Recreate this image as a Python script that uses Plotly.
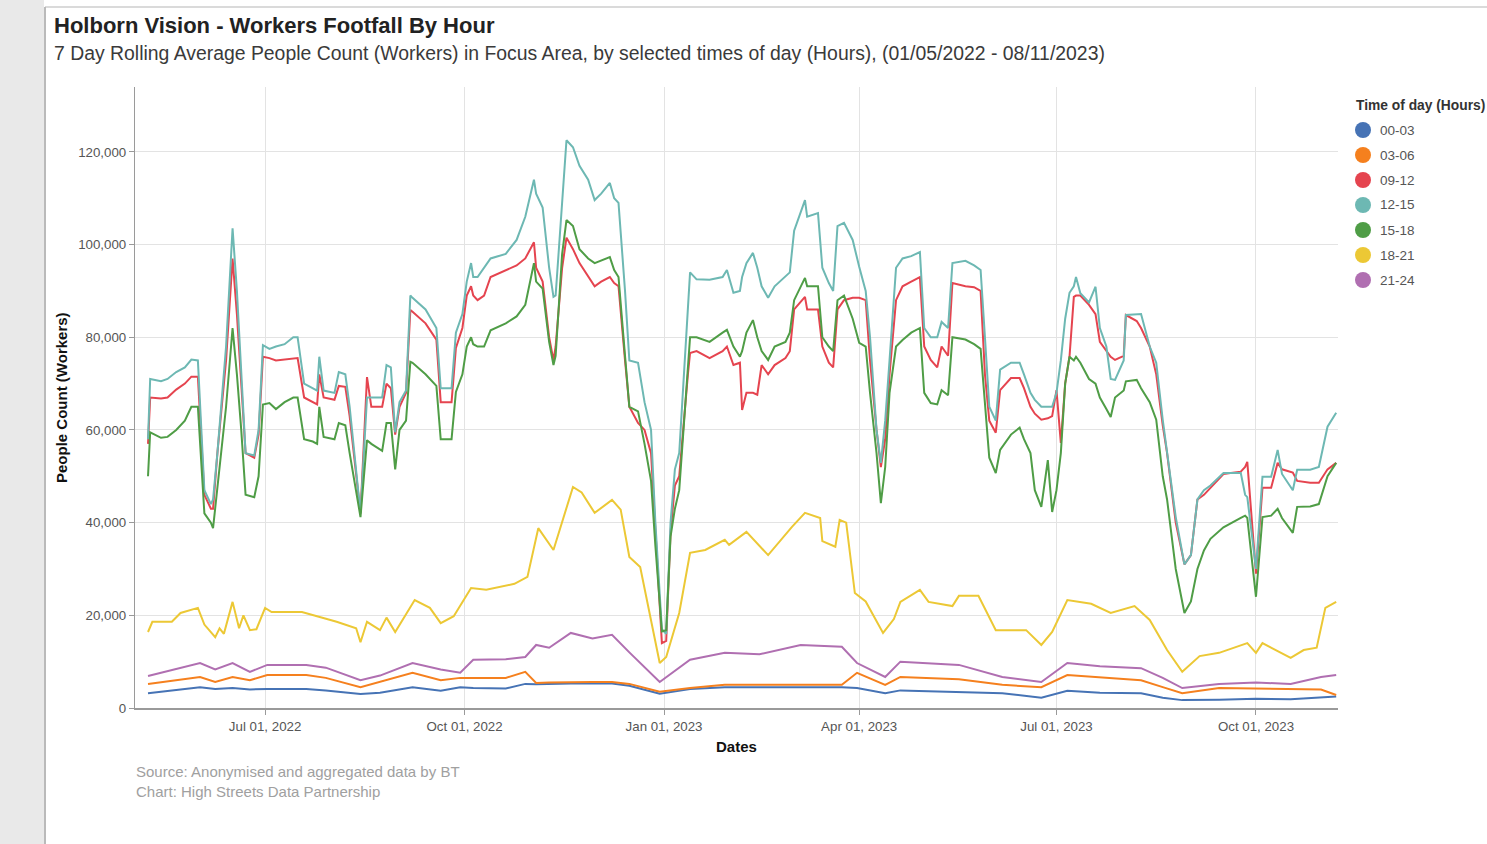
import plotly.graph_objects as go

# ---------------- data ----------------
top_dates = [
    "2022-05-08", "2022-05-09", "2022-05-14", "2022-05-17", "2022-05-21", "2022-05-25", "2022-05-28", "2022-05-31",
    "2022-06-03", "2022-06-06", "2022-06-07", "2022-06-09", "2022-06-13", "2022-06-16", "2022-06-18", "2022-06-20",
    "2022-06-22", "2022-06-26", "2022-06-28", "2022-06-30", "2022-07-03", "2022-07-06", "2022-07-10", "2022-07-14",
    "2022-07-16", "2022-07-19", "2022-07-23", "2022-07-25", "2022-07-26", "2022-07-28", "2022-08-02", "2022-08-04",
    "2022-08-07", "2022-08-09", "2022-08-14", "2022-08-17", "2022-08-19", "2022-08-24", "2022-08-26", "2022-08-28",
    "2022-08-30", "2022-09-01", "2022-09-04", "2022-09-06", "2022-09-07", "2022-09-13", "2022-09-18", "2022-09-20",
    "2022-09-25", "2022-09-27", "2022-09-30", "2022-10-02", "2022-10-04", "2022-10-05", "2022-10-07", "2022-10-10",
    "2022-10-13", "2022-10-20", "2022-10-25", "2022-10-29", "2022-11-02", "2022-11-03", "2022-11-06", "2022-11-09",
    "2022-11-11", "2022-11-12", "2022-11-15", "2022-11-17", "2022-11-20", "2022-11-23", "2022-11-27", "2022-11-30",
    "2022-12-03", "2022-12-07", "2022-12-09", "2022-12-11", "2022-12-14", "2022-12-16", "2022-12-20", "2022-12-23",
    "2022-12-26", "2022-12-28", "2022-12-31", "2023-01-02", "2023-01-04", "2023-01-06", "2023-01-08", "2023-01-12",
    "2023-01-13", "2023-01-16", "2023-01-22", "2023-01-28", "2023-01-30", "2023-02-02", "2023-02-05", "2023-02-06",
    "2023-02-08", "2023-02-11", "2023-02-13", "2023-02-15", "2023-02-18", "2023-02-21", "2023-02-26", "2023-02-28",
    "2023-03-02", "2023-03-07", "2023-03-08", "2023-03-13", "2023-03-15", "2023-03-18", "2023-03-20", "2023-03-22",
    "2023-03-25", "2023-03-29", "2023-04-01", "2023-04-04", "2023-04-06", "2023-04-09", "2023-04-11", "2023-04-13",
    "2023-04-15", "2023-04-18", "2023-04-21", "2023-04-25", "2023-04-29", "2023-05-01", "2023-05-04", "2023-05-07",
    "2023-05-09", "2023-05-12", "2023-05-14", "2023-05-20", "2023-05-24", "2023-05-27", "2023-05-29", "2023-05-31",
    "2023-06-03", "2023-06-05", "2023-06-10", "2023-06-14", "2023-06-16", "2023-06-19", "2023-06-21", "2023-06-24",
    "2023-06-27", "2023-06-29", "2023-07-01", "2023-07-03", "2023-07-05", "2023-07-07", "2023-07-09", "2023-07-10",
    "2023-07-12", "2023-07-16", "2023-07-19", "2023-07-21", "2023-07-24", "2023-07-26", "2023-07-28", "2023-08-01",
    "2023-08-02", "2023-08-07", "2023-08-09", "2023-08-13", "2023-08-16", "2023-08-19", "2023-08-21", "2023-08-25",
    "2023-08-29", "2023-09-01", "2023-09-04", "2023-09-07", "2023-09-10", "2023-09-16", "2023-09-24", "2023-09-26",
    "2023-09-27", "2023-10-01", "2023-10-04", "2023-10-08", "2023-10-11", "2023-10-13", "2023-10-18", "2023-10-20",
    "2023-10-26", "2023-10-30", "2023-11-03", "2023-11-07",
]

hours_12_15 = [
    58000, 71000, 70500, 71000, 72500, 73500, 75200, 75000,
    47000, 44000, 45000, 55000, 78000, 103500, 90000, 72000,
    55000, 54500, 60000, 78300, 77500, 78000, 78500, 80000,
    80000, 70000, 69000, 68500, 75800, 68500, 68000, 72500,
    72000, 65000, 42000, 67000, 67000, 67000, 74000, 73500,
    59500, 66000, 68500, 89000, 88500, 86000, 82000, 69000,
    69000, 81000, 85000, 92000, 96000, 93000, 93000, 95000,
    97000, 98000, 101000, 106000, 114000, 111000, 108000, 95000,
    88700, 89000, 110000, 122500, 121000, 117000, 114000, 109600,
    111000, 113300, 110000, 109000, 90000, 75000, 74500, 66000,
    60000, 40000, 17000, 16000, 40000, 51500, 55000, 85000,
    94000, 92500, 92400, 93000, 94500, 89600, 90000, 93000,
    96000, 98200, 95000, 91000, 88500, 91000, 93000, 94000,
    103000, 109600, 106000, 106800, 95000, 91700, 90000, 104000,
    104700, 101000, 95200, 90000, 80000, 60000, 52900, 62000,
    75000, 95000, 97000, 97500, 98400, 82000, 80000, 80000,
    83300, 82000, 96000, 96500, 95500, 94500, 80000, 65000,
    62000, 73000, 74500, 74500, 72000, 68000, 66500, 65000,
    65000, 65000, 68000, 75000, 84000, 89600, 91000, 93000,
    89500, 87500, 90900, 82000, 78000, 71000, 70800, 75000,
    84800, 85000, 85000, 78000, 74500, 62200, 55000, 41200,
    31000, 33000, 45000, 47000, 48000, 50700, 50700, 46000,
    45500, 30000, 49900, 49900, 55700, 50500, 47000, 51400,
    51400, 52000, 60700, 63700,
]

hours_09_12 = [
    57000, 67000, 66800, 67000, 68700, 70000, 71500, 71500,
    46000, 43000, 43000, 55000, 75000, 97000, 85000, 70000,
    55000, 54000, 59000, 75800, 75500, 75000, 75200, 75500,
    75500, 67000, 66000, 65500, 72000, 67000, 66500, 69500,
    69300, 63000, 42000, 71400, 65000, 65000, 70000, 69000,
    59000, 65000, 68000, 85900, 85500, 83000, 79500, 66000,
    66000, 77700, 82000, 89000, 91000, 89000, 88000, 89000,
    93000, 94500, 95500, 97000, 100500, 95000, 92000, 80000,
    75000, 78000, 95000, 101500, 99000, 96000, 93000, 91000,
    92000, 93000, 91700, 91000, 75000, 65000, 61500, 60000,
    55000, 38000, 14000, 14500, 38000, 48000, 50000, 72000,
    76600, 77000, 75500, 77000, 78000, 74000, 74500, 64300,
    68000, 68000, 67600, 74000, 72000, 74000, 75500, 77000,
    86000, 88700, 86000, 86000, 78000, 74500, 73500, 86000,
    88000, 88500, 88500, 88000, 75000, 60000, 52000, 58000,
    72000, 88000, 91000, 92000, 93000, 78000, 75100, 73500,
    78000, 76000, 91700, 91000, 90800, 90000, 72000, 62000,
    59400, 68600, 71200, 71200, 69000, 65000, 63500, 62200,
    62500, 63000, 68600, 57200, 70000, 75800, 88700, 89000,
    89000, 87000, 85000, 79000, 77000, 75800, 75100, 76000,
    84800, 83500, 82000, 78000, 72000, 61000, 55000, 40000,
    31000, 33000, 45000, 46000, 47500, 50500, 51000, 52000,
    53100, 29000, 47500, 47500, 52900, 51500, 50800, 49000,
    48600, 48600, 51500, 52900,
]

hours_15_18 = [
    50000, 59500, 58300, 58500, 60000, 62000, 65000, 65000,
    42000, 40000, 38800, 48000, 65000, 82000, 72000, 60000,
    46000, 45500, 50000, 65500, 65800, 64500, 66000, 67000,
    67000, 58000, 57500, 57000, 65000, 58500, 58000, 61500,
    61000, 55000, 41200, 57800, 57000, 55500, 61500, 61500,
    51500, 60000, 62000, 74700, 74500, 72000, 69500, 58000,
    58000, 68200, 72000, 78000, 80000, 78500, 78000, 78000,
    81500, 83000, 84500, 87000, 96000, 92000, 90500, 79000,
    74000, 76000, 98000, 105300, 104000, 99000, 97000, 96000,
    96500, 97300, 94500, 93000, 76000, 65000, 64000, 57000,
    49000, 35000, 16500, 16800, 37000, 43000, 47000, 74000,
    80000, 80000, 79000, 81000, 81600, 78000, 75800, 77000,
    81000, 83700, 80000, 77000, 75100, 78000, 79000, 81000,
    88000, 92800, 91000, 91000, 80000, 78000, 77000, 88000,
    89000, 84000, 78800, 78000, 68000, 55000, 44200, 52000,
    68000, 78000, 79400, 81000, 82000, 68000, 65800, 65500,
    68600, 67500, 80000, 79500, 78500, 77500, 65000, 54000,
    50700, 55700, 59000, 60500, 58000, 55000, 47000, 43400,
    53500, 42300, 47000, 55000, 70000, 75800, 75000, 75800,
    74500, 71000, 70000, 67000, 64500, 62800, 67000, 68500,
    70500, 70800, 69000, 66000, 62200, 50000, 45000, 30000,
    20500, 23000, 30000, 34000, 36500, 39000, 41000, 41500,
    41000, 24000, 41200, 41500, 43000, 41000, 37800, 43400,
    43500, 44000, 50000, 52900,
]

low_dates = [
    "2022-05-08", "2022-06-01", "2022-06-08", "2022-06-16", "2022-06-24", "2022-07-02", "2022-07-20", "2022-07-29",
    "2022-08-14", "2022-08-23", "2022-09-07", "2022-09-20", "2022-09-29", "2022-10-05", "2022-10-20", "2022-10-29",
    "2022-11-03", "2022-11-09", "2022-11-19", "2022-11-29", "2022-12-08", "2022-12-16", "2022-12-30", "2023-01-13",
    "2023-01-29", "2023-02-14", "2023-03-05", "2023-03-24", "2023-03-31", "2023-04-13", "2023-04-20", "2023-05-17",
    "2023-06-06", "2023-06-24", "2023-07-06", "2023-07-21", "2023-08-09", "2023-08-19", "2023-08-28", "2023-09-14",
    "2023-10-01", "2023-10-17", "2023-10-31", "2023-11-07",
]

hours_00_03 = [
    3200, 4500, 4100, 4300, 4000, 4100, 4100, 3800,
    3000, 3300, 4500, 3700, 4500, 4300, 4200, 5200,
    5100, 5200, 5300, 5300, 5300, 4800, 3100, 4100,
    4500, 4500, 4500, 4500, 4300, 3200, 3800, 3500,
    3200, 2200, 3700, 3300, 3200, 2200, 1700, 1800,
    2000, 1900, 2400, 2500,
]

hours_03_06 = [
    5200, 6700, 5600, 6700, 6000, 7100, 7100, 6500,
    4500, 5600, 7600, 6000, 6500, 6500, 6500, 7800,
    5400, 5500, 5600, 5600, 5600, 5200, 3500, 4300,
    5000, 5000, 5000, 5000, 7600, 5000, 6700, 6200,
    5000, 4500, 7100, 6600, 6000, 4500, 3200, 4300,
    4200, 4200, 4000, 2800,
]

hours_21_24 = [
    6900, 9700, 8300, 9700, 7800, 9300, 9300, 8700,
    6000, 7000, 9700, 8300, 7600, 10400, 10500, 11000,
    13600, 13000, 16200, 15000, 15800, 12000, 5600, 10400,
    11900, 11600, 13600, 13200, 9700, 6700, 10000, 9300,
    6700, 5600, 9700, 9000, 8600, 6500, 4300, 5200,
    5500, 5200, 6700, 7100,
]

evening_dates = [
    "2022-05-08", "2022-05-10", "2022-05-19", "2022-05-23", "2022-05-31", "2022-06-03", "2022-06-08", "2022-06-10",
    "2022-06-12", "2022-06-16", "2022-06-19", "2022-06-21", "2022-06-24", "2022-06-27", "2022-07-01", "2022-07-04",
    "2022-07-18", "2022-07-25", "2022-08-03", "2022-08-12", "2022-08-14", "2022-08-17", "2022-08-23", "2022-08-26",
    "2022-08-30", "2022-09-08", "2022-09-15", "2022-09-20", "2022-09-26", "2022-10-04", "2022-10-11", "2022-10-24",
    "2022-10-30", "2022-11-04", "2022-11-11", "2022-11-20", "2022-11-24", "2022-11-30", "2022-12-08", "2022-12-12",
    "2022-12-16", "2022-12-21", "2022-12-26", "2022-12-30", "2023-01-02", "2023-01-08", "2023-01-13", "2023-01-20",
    "2023-01-29", "2023-01-31", "2023-02-08", "2023-02-13", "2023-02-18", "2023-03-01", "2023-03-07", "2023-03-14",
    "2023-03-15", "2023-03-21", "2023-03-23", "2023-03-26", "2023-03-30", "2023-04-04", "2023-04-12", "2023-04-17",
    "2023-04-20", "2023-04-29", "2023-05-03", "2023-05-14", "2023-05-17", "2023-05-26", "2023-06-03", "2023-06-17",
    "2023-06-24", "2023-06-29", "2023-07-06", "2023-07-17", "2023-07-26", "2023-08-06", "2023-08-13", "2023-08-21",
    "2023-08-28", "2023-09-05", "2023-09-14", "2023-09-27", "2023-10-01", "2023-10-04", "2023-10-17", "2023-10-23",
    "2023-10-29", "2023-11-02", "2023-11-07",
]

hours_18_21 = [
    16400, 18600, 18600, 20500, 21600, 18000, 15300, 17200,
    16000, 22900, 17200, 20000, 16800, 17000, 21600, 20700,
    20700, 19800, 18600, 17200, 14200, 18600, 16800, 19500,
    16400, 23300, 21600, 18300, 19800, 25900, 25500, 26800,
    28300, 38800, 34100, 47700, 46500, 42100, 44900, 42800,
    32600, 30400, 19000, 9700, 11000, 20500, 33500, 34100,
    36300, 35200, 38000, 35500, 33000, 39100, 42100, 41000,
    36000, 34800, 40600, 40000, 24800, 23000, 16200, 19200,
    22900, 25500, 22900, 22000, 24200, 24200, 16800, 16800,
    13600, 16400, 23300, 22500, 20500, 22000, 19000, 12500,
    7800, 11200, 11900, 14000, 11900, 14000, 10800, 12500,
    13000, 21600, 22900,
]

series_labels = ["00-03", "03-06", "09-12", "12-15", "15-18", "18-21", "21-24"]
series_colors = ["#4673b5", "#f5801e", "#e5444f", "#6db8b3", "#4f9d46", "#ecc835", "#b06fb1"]

y_tickvals = [0, 20000, 40000, 60000, 80000, 100000, 120000]
x_tickvals = ["2022-07-01", "2022-10-01", "2023-01-01", "2023-04-01", "2023-07-01", "2023-10-01"]
x_ticktext = ["Jul 01, 2022", "Oct 01, 2022", "Jan 01, 2023", "Apr 01, 2023", "Jul 01, 2023", "Oct 01, 2023"]

title_text = "Holborn Vision - Workers Footfall By Hour"
subtitle_text = ("7 Day Rolling Average People Count (Workers) in Focus Area, by selected times of day (Hours), "
                 "(01/05/2022 - 08/11/2023)")
source_lines = ["Source: Anonymised and aggregated data by BT", "Chart: High Streets Data Partnership"]
legend_title = "Time of day (Hours)"

# ---------------- layout geometry (pixels) ----------------
W, H = 1487, 844
L, R, T, B = 135, 1338, 87, 708
FONT = "Arial, Liberation Sans, Helvetica, sans-serif"


def px(x):
    return (x - L) / (R - L)


def py(y):
    return (B - y) / (B - T)


series = [
    (low_dates, hours_00_03),
    (low_dates, hours_03_06),
    (top_dates, hours_09_12),
    (top_dates, hours_12_15),
    (top_dates, hours_15_18),
    (evening_dates, hours_18_21),
    (low_dates, hours_21_24),
]

fig = go.Figure()
for (xs, ys), name, col in zip(series, series_labels, series_colors):
    fig.add_trace(go.Scatter(x=xs, y=ys, mode="lines", name=name,
                             line=dict(color=col, width=2), showlegend=False))

annotations = [
    dict(text="<b>" + title_text + "</b>", x=px(52), y=py(25), xanchor="left", yanchor="middle",
         font=dict(size=22, color="#222222")),
    dict(text=subtitle_text, x=px(52), y=py(53), xanchor="left", yanchor="middle",
         font=dict(size=19.4, color="#3a3a3a")),
    dict(text="<b>People Count (Workers)</b>", x=px(61), y=py(398), xanchor="center", yanchor="middle",
         textangle=-90, font=dict(size=15, color="#111111")),
    dict(text="<b>Dates</b>", x=px(736), y=py(746), xanchor="center", yanchor="middle",
         font=dict(size=15, color="#111111")),
    dict(text=source_lines[0], x=px(134), y=py(771), xanchor="left", yanchor="middle",
         font=dict(size=15, color="#a0a0a0")),
    dict(text=source_lines[1], x=px(134), y=py(791), xanchor="left", yanchor="middle",
         font=dict(size=15, color="#a0a0a0")),
    dict(text="<b>" + legend_title + "</b>", x=px(1354), y=py(105), xanchor="left", yanchor="middle",
         font=dict(size=13.8, color="#333333")),
]

shapes = [
    dict(type="rect", xref="paper", yref="paper", x0=px(0), x1=px(44), y0=py(0), y1=py(H),
         fillcolor="#e9e9e9", line=dict(width=0), layer="below"),
    dict(type="line", xref="paper", yref="paper", x0=px(45), x1=px(45), y0=py(7), y1=py(H),
         line=dict(color="#8c8c8c", width=1.2)),
    dict(type="line", xref="paper", yref="paper", x0=px(45), x1=px(W), y0=py(7), y1=py(7),
         line=dict(color="#b5b5b5", width=1.2)),
]

for i, (name, col) in enumerate(zip(series_labels, series_colors)):
    cy = 130 + 25 * i
    shapes.append(dict(type="circle", xref="paper", yref="paper",
                       x0=px(1355), x1=px(1371), y0=py(cy - 8), y1=py(cy + 8),
                       fillcolor=col, line=dict(width=0)))
    annotations.append(dict(text=name, x=px(1378), y=py(cy), xanchor="left", yanchor="middle",
                            font=dict(size=13.5, color="#555555")))

for a in annotations:
    a.update(xref="paper", yref="paper", showarrow=False)

fig.update_layout(
    width=W, height=H,
    margin=dict(l=L, r=W - R, t=T, b=H - B, pad=0),
    paper_bgcolor="white", plot_bgcolor="white",
    font=dict(family=FONT, color="#555555"),
    showlegend=False,
    annotations=annotations,
    shapes=shapes,
    xaxis=dict(
        type="date",
        range=["2022-05-02", "2023-11-07 20:00"],
        tickvals=x_tickvals, ticktext=x_ticktext,
        showgrid=True, gridcolor="#e3e3e3", gridwidth=1,
        showline=True, linecolor="#9a9a9a", linewidth=1.5,
        ticks="outside", ticklen=5, tickcolor="#9a9a9a",
        tickfont=dict(size=13.3, color="#555555"),
        zeroline=False, fixedrange=True,
    ),
    yaxis=dict(
        range=[0, 134000],
        tickvals=y_tickvals, tickformat=",d",
        showgrid=True, gridcolor="#e3e3e3", gridwidth=1,
        showline=True, linecolor="#9a9a9a", linewidth=1.2,
        ticks="outside", ticklen=5, tickcolor="#9a9a9a",
        tickfont=dict(size=13.3, color="#555555"),
        zeroline=False, fixedrange=True,
    ),
)

fig.write_html("out.html", config={"displayModeBar": False},
               post_script="document.body.style.margin='0';document.body.style.overflow='hidden';")
